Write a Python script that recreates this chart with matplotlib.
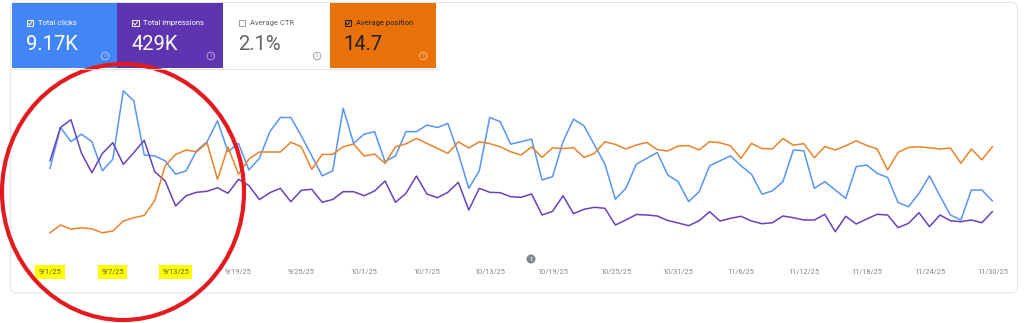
import matplotlib
matplotlib.use("Agg")
import matplotlib.pyplot as plt
import matplotlib.dates as mdates
from matplotlib.patches import Rectangle, Ellipse, Circle, FancyBboxPatch
import pandas as pd

plt.rcParams['font.family'] = ['Roboto', 'DejaVu Sans']

# daily data, 9/1/25 .. 11/30/25
dates = pd.date_range("2025-09-01", "2025-11-30", freq="D")

clicks = [92, 141, 124, 133, 124, 89, 103, 185, 173, 108,
          107, 101, 85, 89, 113, 124, 149, 112, 122, 90,
          104, 136, 153, 153, 131, 107, 83, 89, 164, 122,
          133, 136, 100, 107, 136, 136, 144, 141, 146, 110,
          68, 89, 153, 148, 121, 124, 127, 78, 82, 124,
          151, 143, 120, 97, 55, 68, 97, 104, 111, 84,
          76, 52, 64, 95, 101, 107, 95, 85, 61, 65,
          76, 114, 113, 68, 76, 66, 56, 94, 96, 86,
          81, 51, 46, 62, 83, 59, 36, 30, 66, 66,
          53]

impressions = [8430, 11750, 12530, 9200, 7230, 9150, 10230, 8070, 9230, 10470,
               7330, 6400, 3900, 4930, 5270, 5370, 5730, 5170, 6570, 5950,
               4540, 5230, 5670, 4330, 5470, 5570, 4270, 4550, 5330, 5330,
               4930, 5400, 6400, 4270, 5170, 6900, 5100, 4730, 5270, 6270,
               3500, 5670, 5270, 5230, 4830, 4770, 5100, 3000, 3370, 4930,
               3130, 3570, 3770, 3670, 2000, 2500, 3050, 3000, 2900, 2450,
               2200, 1930, 2430, 3330, 2400, 2670, 2870, 2400, 2130, 2230,
               2900, 2730, 2500, 2500, 3070, 1330, 2870, 2100, 2600, 3070,
               3000, 1730, 2170, 3230, 1830, 3000, 2430, 2330, 2500, 2230,
               3330]

position = [52.4, 48.5, 50.5, 49.9, 50.4, 52.4, 51.5, 46.5, 44.9, 43.7,
            36.4, 18.9, 13.2, 11.0, 11.9, 7.4, 25.7, 9.5, 23.1, 15.5,
            12.0, 12.0, 12.0, 7.1, 9.4, 20.7, 13.2, 13.2, 9.4, 8.0,
            14.0, 13.0, 17.7, 9.4, 7.9, 5.2, 7.7, 10.2, 12.7, 6.9,
            10.0, 6.9, 7.8, 9.4, 11.9, 13.5, 9.4, 14.7, 9.9, 10.3,
            9.8, 14.7, 12.7, 6.9, 8.2, 10.5, 8.5, 7.2, 10.8, 11.5,
            9.0, 8.8, 11.0, 6.8, 7.4, 8.9, 15.2, 7.7, 10.3, 10.4,
            5.3, 8.6, 7.8, 14.9, 9.3, 11.0, 8.9, 6.4, 8.7, 10.5,
            21.0, 12.2, 9.7, 9.4, 9.9, 10.5, 10.0, 17.7, 10.5, 15.9,
            9.4]

tick_dates = pd.date_range("2025-09-01", "2025-11-30", freq="6D")
tick_labels = ["9/1/25", "9/7/25", "9/13/25", "9/19/25", "9/25/25", "10/1/25",
               "10/7/25", "10/13/25", "10/19/25", "10/25/25", "10/31/25",
               "11/6/25", "11/12/25", "11/18/25", "11/24/25", "11/30/25"]
highlighted = ["9/1/25", "9/7/25", "9/13/25"]

card_titles = ["Total clicks", "Total impressions", "Average CTR", "Average position"]
card_values = ["9.17K", "429K", "2.1%", "14.7"]
card_checked = [True, True, False, True]

BLUE, PURPLE, ORANGE = "#4285f4", "#5e35b1", "#e8710a"
card_colors = [BLUE, PURPLE, "#ffffff", ORANGE]
card_text = ["white", "white", "#5f6368", "#202124"]
card_icon = ["#a9c8fb", "#b4a0de", "#9aa0a6", "#f6b57c"]

W, H = 1024, 323
fig = plt.figure(figsize=(W / 100, H / 100), dpi=100)

# pixel layout of the plot area
px_day = 10.47
left_px, right_px, first_px = 12, 1012, 50
top_px, bottom_px = 85, 245

ax = fig.add_axes([left_px / W, 1 - bottom_px / H,
                   (right_px - left_px) / W, (bottom_px - top_px) / H])
ax_imp = ax.twinx()
ax_pos = ax.twinx()

x0 = mdates.date2num(dates[0])
ax.set_xlim(x0 - (first_px - left_px) / px_day, x0 + (right_px - first_px) / px_day)

ax.plot(dates, clicks, color="#5596f5", lw=1.1)
ax_imp.plot(dates, impressions, color="#6842bd", lw=1.1)
ax_pos.plot(dates, position, color="#ec822a", lw=1.1)

ax.set_ylim(0, 192)
ax_imp.set_ylim(0, 16000)
ax_pos.set_ylim(58.5, -21.5)   # position axis is inverted

for a in (ax_imp, ax_pos):
    a.axis('off')
for s in ax.spines.values():
    s.set_visible(False)
ax.patch.set_alpha(0)
ax.set_yticks([])
ax.set_xticks(tick_dates)
ax.set_xticklabels(tick_labels)
ax.tick_params(axis='x', length=0, pad=16.9, labelsize=5.3, labelcolor='#80868b')
for lab in ax.get_xticklabels():
    if lab.get_text() in highlighted:
        lab.set_bbox(dict(boxstyle='square,pad=0.45', fc='#ffff00', ec='none'))
        lab.set_color('#5a5a35')

# overlay in pixel coordinates: cards, frame, annotation
ov = fig.add_axes([0, 0, 1, 1])
ov.set_xlim(0, W)
ov.set_ylim(H, 0)
ov.axis('off')
ov.patch.set_alpha(0)

ov.add_patch(FancyBboxPatch((10.5, 2.5), 1007, 290.5,
                            boxstyle='round,pad=0,rounding_size=6',
                            fc='none', ec='#e3e5e8', lw=0.8))

card_x = [11.7, 117.3, 223.7, 329.7]
card_w = 105.8
for x, title, val, chk, fc, tc, ic in zip(card_x, card_titles, card_values,
                                          card_checked, card_colors, card_text, card_icon):
    ov.add_patch(Rectangle((x, 3.3), card_w, 65, fc=fc, ec='none'))
    box_ec = tc if chk else '#9aa0a6'
    ov.add_patch(Rectangle((x + 15, 20.2), 6.3, 6.3, fc='none', ec=box_ec, lw=0.7))
    if chk:
        ov.plot([x + 16.5, x + 17.9, x + 20.1], [23.4, 24.9, 21.8], color=tc, lw=0.7)
    ov.text(x + 26, 23.4, title, fontsize=5.5, color=tc, va='center', ha='left')
    ov.text(x + 14, 50.3, val, fontsize=14.5, color=tc, va='baseline', ha='left')
    ov.add_patch(Circle((x + 93.5, 56), 3.8, fc='none', ec=ic, lw=0.7))
    ov.text(x + 93.5, 56.2, '?', fontsize=4, color=ic, va='center', ha='center')

ov.plot([11.7, 435.5], [68.6, 68.6], color='#e0e0e0', lw=0.6)

# annotation marker on the time axis
ov.add_patch(Circle((531, 259), 4.5, fc='#80868b', ec='none'))
ov.text(531, 259.3, '1', fontsize=4, color='white', va='center', ha='center', fontweight='bold')

# red hand-drawn highlight circle
ov.add_patch(Ellipse((123, 192), 242, 256, fc='none', ec='#e31b1f', lw=3))

fig.savefig("out.png", dpi=100)
